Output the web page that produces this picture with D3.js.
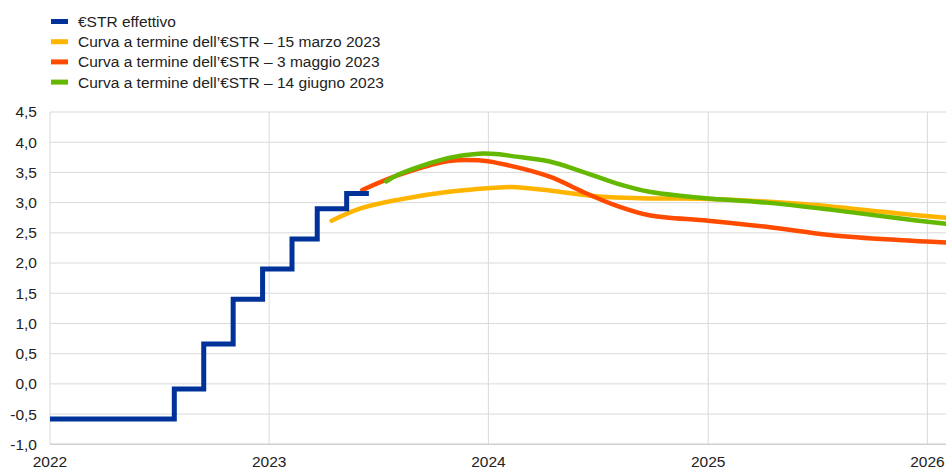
<!DOCTYPE html>
<html>
<head>
<meta charset="utf-8">
<script src="https://cdn.jsdelivr.net/npm/d3@7"></script>
<style>
  body { margin: 0; background: #fff; }
  svg { font-family: Arial, "Liberation Sans", sans-serif; }
</style>
</head>
<body>
<svg id="chart" width="946" height="469"></svg>
<script>
// €STR effettivo (step changes)
const estrDates = ["2022-01-01","2022-07-27","2022-09-14","2022-11-02","2022-12-21","2023-02-08","2023-03-22","2023-05-10","2023-06-16"];
const estrValues = [-0.58, -0.085, 0.66, 1.40, 1.90, 2.40, 2.90, 3.15, 3.15];

// forward curves
const marDates = ["2023-04-15","2023-06-01","2023-08-05","2023-10-27","2024-01-19","2024-02-10","2024-04-12","2024-07-03","2024-09-25","2025-01-01","2025-06-02","2025-11-14","2026-02-01"];
const marValues = [2.70, 2.90, 3.05, 3.18, 3.25, 3.26, 3.20, 3.10, 3.07, 3.06, 2.98, 2.82, 2.75];

const mayDates = ["2023-06-05","2023-08-05","2023-10-27","2023-12-16","2024-01-19","2024-04-12","2024-06-06","2024-08-01","2024-09-25","2025-01-01","2025-04-08","2025-07-26","2025-11-14","2026-02-01"];
const mayValues = [3.21, 3.46, 3.69, 3.70, 3.65, 3.43, 3.18, 2.95, 2.79, 2.70, 2.60, 2.46, 2.38, 2.34];

const junDates = ["2023-07-15","2023-08-05","2023-10-27","2023-12-16","2024-01-19","2024-02-10","2024-04-12","2024-06-06","2024-08-01","2024-09-25","2024-11-19","2025-01-01","2025-04-08","2025-07-26","2025-11-14","2026-02-01"];
const junValues = [3.35, 3.47, 3.74, 3.81, 3.80, 3.77, 3.68, 3.51, 3.32, 3.18, 3.11, 3.07, 3.00, 2.88, 2.74, 2.65];

const yTicks = [-1.0, -0.5, 0.0, 0.5, 1.0, 1.5, 2.0, 2.5, 3.0, 3.5, 4.0, 4.5];
const xTickYears = [2022, 2023, 2024, 2025, 2026];

const legendLabels = ["€STR effettivo",
  "Curva a termine dell’€STR – 15 marzo 2023",
  "Curva a termine dell’€STR – 3 maggio 2023",
  "Curva a termine dell’€STR – 14 giugno 2023"];
const colors = ["#003299", "#ffb400", "#ff4b00", "#65b800"];

const parse = d3.timeParse("%Y-%m-%d");
const svg = d3.select("#chart");

const x = d3.scaleTime()
  .domain([new Date(2022, 0, 1), new Date(2026, 1, 1)])
  .range([50, 946]);
const y = d3.scaleLinear().domain([-1, 4.5]).range([444.3, 112]);

const fmt = v => d3.format(".1f")(v).replace(".", ",").replace("−", "-");

// gridlines
svg.append("g").selectAll("line").data(yTicks.filter(t => t > -1)).enter()
  .append("line")
  .attr("x1", 50).attr("x2", 946)
  .attr("y1", d => y(d)).attr("y2", d => y(d))
  .attr("stroke", "#d9d9d9").attr("stroke-width", 1);

svg.append("g").selectAll("line").data(xTickYears).enter()
  .append("line")
  .attr("x1", d => x(new Date(d, 0, 1))).attr("x2", d => x(new Date(d, 0, 1)))
  .attr("y1", y(4.5)).attr("y2", y(-1))
  .attr("stroke", "#d9d9d9").attr("stroke-width", 1);

// bottom axis line
svg.append("line")
  .attr("x1", 50).attr("x2", 946)
  .attr("y1", y(-1)).attr("y2", y(-1))
  .attr("stroke", "#d0d0d0").attr("stroke-width", 1.6);

// y labels
svg.append("g").selectAll("text").data(yTicks).enter()
  .append("text")
  .attr("x", 37).attr("y", d => y(d))
  .attr("dy", "0.35em")
  .attr("text-anchor", "end")
  .attr("font-size", 15.5)
  .attr("fill", "#222")
  .text(fmt);

// x labels
svg.append("g").selectAll("text").data(xTickYears).enter()
  .append("text")
  .attr("x", d => x(new Date(d, 0, 1))).attr("y", 462)
  .attr("dy", "0.35em")
  .attr("text-anchor", "middle")
  .attr("font-size", 15.5)
  .attr("fill", "#222")
  .text(d => d);

// lines
const smooth = d3.line().x(d => x(d[0])).y(d => y(d[1])).curve(d3.curveCatmullRom.alpha(0.5));
const step = d3.line().x(d => x(d[0])).y(d => y(d[1])).curve(d3.curveStepAfter);

const zip = (ds, vs) => ds.map((d, i) => [parse(d), vs[i]]);

svg.append("path").datum(zip(marDates, marValues))
  .attr("d", smooth).attr("fill", "none")
  .attr("stroke", colors[1]).attr("stroke-width", 4.5).attr("stroke-linecap", "round");
svg.append("path").datum(zip(mayDates, mayValues))
  .attr("d", smooth).attr("fill", "none")
  .attr("stroke", colors[2]).attr("stroke-width", 4.5).attr("stroke-linecap", "round");
svg.append("path").datum(zip(junDates, junValues))
  .attr("d", smooth).attr("fill", "none")
  .attr("stroke", colors[3]).attr("stroke-width", 4.5).attr("stroke-linecap", "round");
svg.append("path").datum(zip(estrDates, estrValues))
  .attr("d", step).attr("fill", "none")
  .attr("stroke", colors[0]).attr("stroke-width", 5);

// legend
const leg = svg.append("g").selectAll("g").data(legendLabels).enter()
  .append("g")
  .attr("transform", (d, i) => "translate(51," + (21.5 + i * 20.2) + ")");
leg.append("rect")
  .attr("x", 0).attr("y", -2.5).attr("width", 17).attr("height", 5)
  .attr("fill", (d, i) => colors[i]);
leg.append("text")
  .attr("x", 27).attr("y", 0).attr("dy", "0.35em")
  .attr("font-size", 15.5)
  .attr("fill", "#222")
  .text(d => d);
</script>
</body>
</html>
